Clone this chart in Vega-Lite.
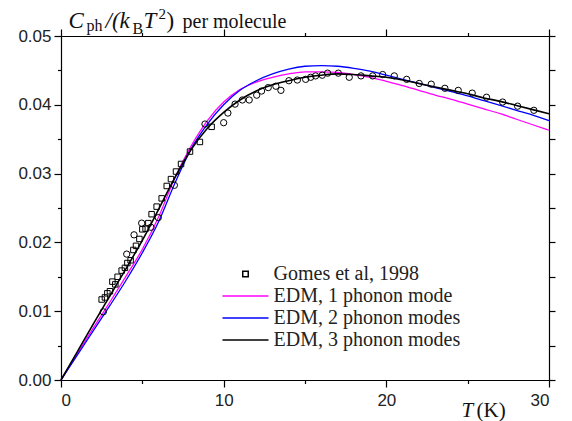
{
 "$schema": "https://vega.github.io/schema/vega-lite/v6.json",
 "width": 488, "height": 344,
 "autosize": {"type": "none"},
 "padding": {"left": 61, "top": 36, "right": 23, "bottom": 41},
 "background": "white",
 "config": {
   "view": {"stroke": null},
   "axis": {"grid": false, "domainColor": "#000", "domainWidth": 1.2, "tickColor": "#000", "tickWidth": 1.2, "labelFont": "Liberation Sans", "labelFontSize": 17, "labelColor": "#222", "titleColor": "#111", "titleFont": "Liberation Serif", "titleFontWeight": "normal", "titleAngle": 0, "titleAlign": "left", "titleBaseline": "alphabetic"}
 },
 "datasets": {
  "curves": [
   {"series":"EDM, 1 phonon mode","T":0,"C":0},{"series":"EDM, 1 phonon mode","T":1,"C":0.0038},{"series":"EDM, 1 phonon mode","T":2,"C":0.0076},{"series":"EDM, 1 phonon mode","T":3,"C":0.0113},{"series":"EDM, 1 phonon mode","T":4,"C":0.0151},{"series":"EDM, 1 phonon mode","T":5,"C":0.0190},{"series":"EDM, 1 phonon mode","T":6,"C":0.0237},{"series":"EDM, 1 phonon mode","T":7,"C":0.0294},{"series":"EDM, 1 phonon mode","T":8,"C":0.0340},{"series":"EDM, 1 phonon mode","T":9,"C":0.0377},{"series":"EDM, 1 phonon mode","T":10,"C":0.0404},{"series":"EDM, 1 phonon mode","T":11,"C":0.0422},{"series":"EDM, 1 phonon mode","T":12,"C":0.0433},{"series":"EDM, 1 phonon mode","T":13,"C":0.0440},{"series":"EDM, 1 phonon mode","T":14,"C":0.0445},{"series":"EDM, 1 phonon mode","T":15,"C":0.0448},{"series":"EDM, 1 phonon mode","T":16,"C":0.0448},{"series":"EDM, 1 phonon mode","T":17,"C":0.0447},{"series":"EDM, 1 phonon mode","T":18,"C":0.0444},{"series":"EDM, 1 phonon mode","T":19,"C":0.0440},{"series":"EDM, 1 phonon mode","T":20,"C":0.0434},{"series":"EDM, 1 phonon mode","T":21,"C":0.0428},{"series":"EDM, 1 phonon mode","T":22,"C":0.0421},{"series":"EDM, 1 phonon mode","T":23,"C":0.0414},{"series":"EDM, 1 phonon mode","T":24,"C":0.0408},{"series":"EDM, 1 phonon mode","T":25,"C":0.0401},{"series":"EDM, 1 phonon mode","T":26,"C":0.0394},{"series":"EDM, 1 phonon mode","T":27,"C":0.0387},{"series":"EDM, 1 phonon mode","T":28,"C":0.0379},{"series":"EDM, 1 phonon mode","T":29,"C":0.0371},{"series":"EDM, 1 phonon mode","T":30,"C":0.0363},
   {"series":"EDM, 2 phonon modes","T":0,"C":0},{"series":"EDM, 2 phonon modes","T":1,"C":0.0036},{"series":"EDM, 2 phonon modes","T":2,"C":0.0072},{"series":"EDM, 2 phonon modes","T":3,"C":0.0108},{"series":"EDM, 2 phonon modes","T":4,"C":0.0145},{"series":"EDM, 2 phonon modes","T":5,"C":0.0185},{"series":"EDM, 2 phonon modes","T":6,"C":0.0230},{"series":"EDM, 2 phonon modes","T":7,"C":0.0286},{"series":"EDM, 2 phonon modes","T":8,"C":0.0336},{"series":"EDM, 2 phonon modes","T":9,"C":0.0372},{"series":"EDM, 2 phonon modes","T":10,"C":0.0400},{"series":"EDM, 2 phonon modes","T":11,"C":0.0421},{"series":"EDM, 2 phonon modes","T":12,"C":0.0435},{"series":"EDM, 2 phonon modes","T":13,"C":0.0445},{"series":"EDM, 2 phonon modes","T":14,"C":0.0452},{"series":"EDM, 2 phonon modes","T":15,"C":0.0456},{"series":"EDM, 2 phonon modes","T":16,"C":0.0457},{"series":"EDM, 2 phonon modes","T":17,"C":0.0456},{"series":"EDM, 2 phonon modes","T":18,"C":0.0453},{"series":"EDM, 2 phonon modes","T":19,"C":0.0449},{"series":"EDM, 2 phonon modes","T":20,"C":0.0443},{"series":"EDM, 2 phonon modes","T":21,"C":0.0437},{"series":"EDM, 2 phonon modes","T":22,"C":0.0431},{"series":"EDM, 2 phonon modes","T":23,"C":0.0425},{"series":"EDM, 2 phonon modes","T":24,"C":0.0419},{"series":"EDM, 2 phonon modes","T":25,"C":0.0413},{"series":"EDM, 2 phonon modes","T":26,"C":0.0406},{"series":"EDM, 2 phonon modes","T":27,"C":0.0399},{"series":"EDM, 2 phonon modes","T":28,"C":0.0392},{"series":"EDM, 2 phonon modes","T":29,"C":0.0385},{"series":"EDM, 2 phonon modes","T":30,"C":0.0377},
   {"series":"EDM, 3 phonon modes","T":0,"C":0},{"series":"EDM, 3 phonon modes","T":1,"C":0.0041},{"series":"EDM, 3 phonon modes","T":2,"C":0.0082},{"series":"EDM, 3 phonon modes","T":3,"C":0.0122},{"series":"EDM, 3 phonon modes","T":4,"C":0.0162},{"series":"EDM, 3 phonon modes","T":5,"C":0.0203},{"series":"EDM, 3 phonon modes","T":6,"C":0.0248},{"series":"EDM, 3 phonon modes","T":7,"C":0.0294},{"series":"EDM, 3 phonon modes","T":8,"C":0.0335},{"series":"EDM, 3 phonon modes","T":9,"C":0.0366},{"series":"EDM, 3 phonon modes","T":10,"C":0.0389},{"series":"EDM, 3 phonon modes","T":11,"C":0.0407},{"series":"EDM, 3 phonon modes","T":12,"C":0.0420},{"series":"EDM, 3 phonon modes","T":13,"C":0.0429},{"series":"EDM, 3 phonon modes","T":14,"C":0.0435},{"series":"EDM, 3 phonon modes","T":15,"C":0.0440},{"series":"EDM, 3 phonon modes","T":16,"C":0.0443},{"series":"EDM, 3 phonon modes","T":17,"C":0.0445},{"series":"EDM, 3 phonon modes","T":18,"C":0.0444},{"series":"EDM, 3 phonon modes","T":19,"C":0.0442},{"series":"EDM, 3 phonon modes","T":20,"C":0.0440},{"series":"EDM, 3 phonon modes","T":21,"C":0.0436},{"series":"EDM, 3 phonon modes","T":22,"C":0.0431},{"series":"EDM, 3 phonon modes","T":23,"C":0.0426},{"series":"EDM, 3 phonon modes","T":24,"C":0.0421},{"series":"EDM, 3 phonon modes","T":25,"C":0.0416},{"series":"EDM, 3 phonon modes","T":26,"C":0.0410},{"series":"EDM, 3 phonon modes","T":27,"C":0.0405},{"series":"EDM, 3 phonon modes","T":28,"C":0.0399},{"series":"EDM, 3 phonon modes","T":29,"C":0.0393},{"series":"EDM, 3 phonon modes","T":30,"C":0.0387}
  ],
  "obs": [
   {"series":"Gomes et al, 1998","set":"sq","T":2.50,"C":0.0117},{"series":"Gomes et al, 1998","set":"sq","T":2.70,"C":0.0120},{"series":"Gomes et al, 1998","set":"sq","T":2.85,"C":0.0126},{"series":"Gomes et al, 1998","set":"sq","T":3.01,"C":0.0129},{"series":"Gomes et al, 1998","set":"sq","T":3.16,"C":0.0143},{"series":"Gomes et al, 1998","set":"sq","T":3.34,"C":0.0139},{"series":"Gomes et al, 1998","set":"sq","T":3.48,"C":0.0150},{"series":"Gomes et al, 1998","set":"sq","T":3.73,"C":0.0159},{"series":"Gomes et al, 1998","set":"sq","T":3.93,"C":0.0163},{"series":"Gomes et al, 1998","set":"sq","T":4.08,"C":0.0170},{"series":"Gomes et al, 1998","set":"sq","T":4.28,"C":0.0174},{"series":"Gomes et al, 1998","set":"sq","T":4.45,"C":0.0189},{"series":"Gomes et al, 1998","set":"sq","T":4.61,"C":0.0195},{"series":"Gomes et al, 1998","set":"sq","T":4.82,"C":0.0205},{"series":"Gomes et al, 1998","set":"sq","T":5.00,"C":0.0219},{"series":"Gomes et al, 1998","set":"sq","T":5.20,"C":0.0220},{"series":"Gomes et al, 1998","set":"sq","T":5.37,"C":0.0228},{"series":"Gomes et al, 1998","set":"sq","T":5.57,"C":0.0241},{"series":"Gomes et al, 1998","set":"sq","T":5.88,"C":0.0252},{"series":"Gomes et al, 1998","set":"sq","T":6.19,"C":0.0264},{"series":"Gomes et al, 1998","set":"sq","T":6.50,"C":0.0282},{"series":"Gomes et al, 1998","set":"sq","T":6.76,"C":0.0292},{"series":"Gomes et al, 1998","set":"sq","T":7.07,"C":0.0303},{"series":"Gomes et al, 1998","set":"sq","T":7.38,"C":0.0314},{"series":"Gomes et al, 1998","set":"sq","T":7.93,"C":0.0332},{"series":"Gomes et al, 1998","set":"sq","T":8.54,"C":0.0346},{"series":"Gomes et al, 1998","set":"sq","T":9.26,"C":0.0368},
   {"series":"Gomes et al, 1998","set":"ci","T":2.6,"C":0.0099},{"series":"Gomes et al, 1998","set":"ci","T":4.04,"C":0.0183},{"series":"Gomes et al, 1998","set":"ci","T":4.49,"C":0.0211},{"series":"Gomes et al, 1998","set":"ci","T":4.96,"C":0.0228},{"series":"Gomes et al, 1998","set":"ci","T":5.53,"C":0.0222},{"series":"Gomes et al, 1998","set":"ci","T":5.98,"C":0.0236},{"series":"Gomes et al, 1998","set":"ci","T":6.97,"C":0.0283},{"series":"Gomes et al, 1998","set":"ci","T":8.85,"C":0.0372},{"series":"Gomes et al, 1998","set":"ci","T":10.0,"C":0.0374},{"series":"Gomes et al, 1998","set":"ci","T":10.26,"C":0.0388},{"series":"Gomes et al, 1998","set":"ci","T":10.7,"C":0.0401},{"series":"Gomes et al, 1998","set":"ci","T":11.15,"C":0.0407},{"series":"Gomes et al, 1998","set":"ci","T":11.57,"C":0.0407},{"series":"Gomes et al, 1998","set":"ci","T":12.03,"C":0.0414},{"series":"Gomes et al, 1998","set":"ci","T":12.33,"C":0.0420},{"series":"Gomes et al, 1998","set":"ci","T":12.74,"C":0.0425},{"series":"Gomes et al, 1998","set":"ci","T":13.21,"C":0.0427},{"series":"Gomes et al, 1998","set":"ci","T":13.52,"C":0.0421},{"series":"Gomes et al, 1998","set":"ci","T":14.01,"C":0.0435},{"series":"Gomes et al, 1998","set":"ci","T":14.53,"C":0.0436},{"series":"Gomes et al, 1998","set":"ci","T":15.04,"C":0.0437},{"series":"Gomes et al, 1998","set":"ci","T":15.35,"C":0.0440},{"series":"Gomes et al, 1998","set":"ci","T":15.65,"C":0.0442},{"series":"Gomes et al, 1998","set":"ci","T":16.06,"C":0.0443},{"series":"Gomes et al, 1998","set":"ci","T":16.39,"C":0.0446},{"series":"Gomes et al, 1998","set":"ci","T":17.05,"C":0.0446},{"series":"Gomes et al, 1998","set":"ci","T":17.72,"C":0.0440},{"series":"Gomes et al, 1998","set":"ci","T":18.44,"C":0.0442},{"series":"Gomes et al, 1998","set":"ci","T":19.16,"C":0.0442},{"series":"Gomes et al, 1998","set":"ci","T":19.77,"C":0.0444},{"series":"Gomes et al, 1998","set":"ci","T":20.49,"C":0.0442},{"series":"Gomes et al, 1998","set":"ci","T":21.25,"C":0.0437},{"series":"Gomes et al, 1998","set":"ci","T":22.02,"C":0.0431},{"series":"Gomes et al, 1998","set":"ci","T":22.76,"C":0.0430},{"series":"Gomes et al, 1998","set":"ci","T":23.6,"C":0.0424},{"series":"Gomes et al, 1998","set":"ci","T":24.42,"C":0.0421},{"series":"Gomes et al, 1998","set":"ci","T":25.28,"C":0.0417},{"series":"Gomes et al, 1998","set":"ci","T":26.16,"C":0.0411},{"series":"Gomes et al, 1998","set":"ci","T":27.15,"C":0.0404},{"series":"Gomes et al, 1998","set":"ci","T":28.07,"C":0.0398},{"series":"Gomes et al, 1998","set":"ci","T":29.07,"C":0.0392}
  ]
 },
 "resolve": {"scale": {"x": "shared", "y": "shared"}, "axis": {"x": "independent", "y": "independent"}},
 "layer": [
  {
   "data": {"name": "curves"},
   "transform": [{"filter": "datum.series === 'EDM, 1 phonon mode'"}],
   "mark": {"type": "line", "interpolate": "monotone", "strokeWidth": 1.3},
   "encoding": {
    "x": {"field": "T", "type": "quantitative", "scale": {"domain": [0, 30], "nice": false, "zero": false},
          "axis": {"orient": "bottom", "values": [0, 10, 20, 30], "format": "d", "tickSize": 7, "labelPadding": 5, "domain": true,
                   "title": "T", "titleFontStyle": "italic", "titleFontSize": 21, "titleX": 400, "titleY": 36}},
    "y": {"field": "C", "type": "quantitative", "scale": {"domain": [0, 0.05], "nice": false},
          "axis": {"orient": "left", "values": [0, 0.01, 0.02, 0.03, 0.04, 0.05], "format": ".2f", "tickSize": 7, "labelPadding": 3, "domain": true,
                   "title": "C", "titleFontStyle": "italic", "titleFontSize": 23, "titleX": 7, "titleY": -9}},
    "color": {"field": "series", "type": "nominal",
              "scale": {"domain": ["Gomes et al, 1998", "EDM, 1 phonon mode", "EDM, 2 phonon modes", "EDM, 3 phonon modes"], "range": ["#000000", "#ff00ff", "#0000ff", "#000000"]},
              "legend": {"orient": "none", "legendX": 160.5, "legendY": 227, "title": null, "clipHeight": 22, "labelFont": "Liberation Serif", "labelFontSize": 20, "labelColor": "#222", "labelOffset": 4, "symbolStrokeWidth": 1.5, "padding": 0, "rowPadding": 0, "labelLimit": 400}}
   }
  },
  {
   "data": {"name": "curves"},
   "transform": [{"filter": "datum.series === 'EDM, 2 phonon modes'"}],
   "mark": {"type": "line", "interpolate": "monotone", "strokeWidth": 1.3},
   "encoding": {
    "x": {"field": "T", "type": "quantitative", "scale": {"domain": [0, 30], "nice": false, "zero": false},
          "axis": {"orient": "bottom", "values": [5, 15, 25], "tickSize": 3.5, "labels": false, "domain": false,
                   "title": "(K)", "titleFontStyle": "normal", "titleFontSize": 21, "titleX": 415, "titleY": 36}},
    "y": {"field": "C", "type": "quantitative", "scale": {"domain": [0, 0.05], "nice": false},
          "axis": {"orient": "left", "values": [0.005, 0.015, 0.025, 0.035, 0.045], "tickSize": 3.5, "labels": false, "domain": false,
                   "title": "ph", "titleFontStyle": "normal", "titleFontSize": 16, "titleX": 25, "titleY": -6}},
    "color": {"field": "series", "type": "nominal",
              "scale": {"domain": ["Gomes et al, 1998", "EDM, 1 phonon mode", "EDM, 2 phonon modes", "EDM, 3 phonon modes"], "range": ["#000000", "#ff00ff", "#0000ff", "#000000"]},
              "legend": {"orient": "none", "legendX": 160.5, "legendY": 227, "title": null, "clipHeight": 22, "labelFont": "Liberation Serif", "labelFontSize": 20, "labelColor": "#222", "labelOffset": 4, "symbolStrokeWidth": 1.5, "padding": 0, "rowPadding": 0, "labelLimit": 400}}
   }
  },
  {
   "data": {"name": "curves"},
   "transform": [{"filter": "datum.series === 'EDM, 3 phonon modes'"}],
   "mark": {"type": "line", "interpolate": "monotone", "strokeWidth": 1.6},
   "encoding": {
    "x": {"field": "T", "type": "quantitative", "scale": {"domain": [0, 30], "nice": false, "zero": false},
          "axis": {"orient": "top", "values": [0, 10, 20, 30], "tickSize": 7, "labels": false, "domain": true,
                   "title": "/(k", "titleFontStyle": "italic", "titleFontSize": 23, "titleX": 44, "titleY": -9}},
    "y": {"field": "C", "type": "quantitative", "scale": {"domain": [0, 0.05], "nice": false},
          "axis": {"orient": "right", "values": [0, 0.005, 0.01, 0.015, 0.02, 0.025, 0.03, 0.035, 0.04, 0.045, 0.05], "tickSize": 6, "labels": false, "domain": true,
                   "title": "B", "titleFontStyle": "normal", "titleFontSize": 16, "titleX": -417, "titleY": -3}},
    "color": {"field": "series", "type": "nominal",
              "scale": {"domain": ["Gomes et al, 1998", "EDM, 1 phonon mode", "EDM, 2 phonon modes", "EDM, 3 phonon modes"], "range": ["#000000", "#ff00ff", "#0000ff", "#000000"]},
              "legend": {"orient": "none", "legendX": 160.5, "legendY": 227, "title": null, "clipHeight": 22, "labelFont": "Liberation Serif", "labelFontSize": 20, "labelColor": "#222", "labelOffset": 4, "symbolStrokeWidth": 1.5, "padding": 0, "rowPadding": 0, "labelLimit": 400}}
   }
  },
  {
   "data": {"name": "obs"},
   "transform": [{"filter": "datum.set === 'sq'"}],
   "mark": {"type": "point", "filled": false, "strokeWidth": 1, "opacity": 1},
   "encoding": {
    "x": {"field": "T", "type": "quantitative", "scale": {"domain": [0, 30], "nice": false, "zero": false},
          "axis": {"orient": "top", "values": [5, 15, 25], "tickSize": 3.5, "labels": false, "domain": false,
                   "title": "T", "titleFontStyle": "italic", "titleFontSize": 23, "titleX": 82, "titleY": -9}},
    "y": {"field": "C", "type": "quantitative", "scale": {"domain": [0, 0.05], "nice": false},
          "axis": {"orient": "left", "ticks": false, "labels": false, "domain": false,
                   "title": "2", "titleFontStyle": "normal", "titleFontSize": 15, "titleX": 97, "titleY": -18}},
    "color": {"field": "series", "type": "nominal",
              "scale": {"domain": ["Gomes et al, 1998", "EDM, 1 phonon mode", "EDM, 2 phonon modes", "EDM, 3 phonon modes"], "range": ["#000000", "#ff00ff", "#0000ff", "#000000"]},
              "legend": {"orient": "none", "legendX": 160.5, "legendY": 227, "title": null, "clipHeight": 22, "labelFont": "Liberation Serif", "labelFontSize": 20, "labelColor": "#222", "labelOffset": 4, "symbolStrokeWidth": 1.5, "padding": 0, "rowPadding": 0, "labelLimit": 400}},
    "shape": {"field": "series", "type": "nominal",
              "scale": {"domain": ["Gomes et al, 1998", "EDM, 1 phonon mode", "EDM, 2 phonon modes", "EDM, 3 phonon modes"], "range": ["square", "stroke", "stroke", "stroke"]},
              "legend": {"orient": "none", "legendX": 160.5, "legendY": 227, "title": null, "clipHeight": 22, "labelFont": "Liberation Serif", "labelFontSize": 20, "labelColor": "#222", "labelOffset": 4, "symbolStrokeWidth": 1.5, "padding": 0, "rowPadding": 0, "labelLimit": 400}},
    "size": {"field": "series", "type": "nominal",
              "scale": {"type": "ordinal", "domain": ["Gomes et al, 1998", "EDM, 1 phonon mode", "EDM, 2 phonon modes", "EDM, 3 phonon modes"], "range": [30, 2116, 2116, 2116]},
              "legend": {"orient": "none", "legendX": 160.5, "legendY": 227, "title": null, "clipHeight": 22, "labelFont": "Liberation Serif", "labelFontSize": 20, "labelColor": "#222", "labelOffset": 4, "symbolStrokeWidth": 1.5, "padding": 0, "rowPadding": 0, "labelLimit": 400}}
   }
  },
  {
   "data": {"name": "obs"},
   "transform": [{"filter": "datum.set === 'ci'"}],
   "mark": {"type": "point", "shape": "circle", "filled": false, "size": 40, "color": "#000000", "strokeWidth": 1, "opacity": 1},
   "encoding": {
    "x": {"field": "T", "type": "quantitative", "scale": {"domain": [0, 30], "nice": false, "zero": false},
          "axis": {"orient": "top", "ticks": false, "labels": false, "domain": false,
                   "title": ")", "titleFontStyle": "normal", "titleFontSize": 23, "titleX": 105, "titleY": -9}},
    "y": {"field": "C", "type": "quantitative", "scale": {"domain": [0, 0.05], "nice": false},
          "axis": {"orient": "left", "ticks": false, "labels": false, "domain": false,
                   "title": "per molecule", "titleFontStyle": "normal", "titleFontSize": 20, "titleX": 121, "titleY": -9}}
   }
  }
 ]
}
